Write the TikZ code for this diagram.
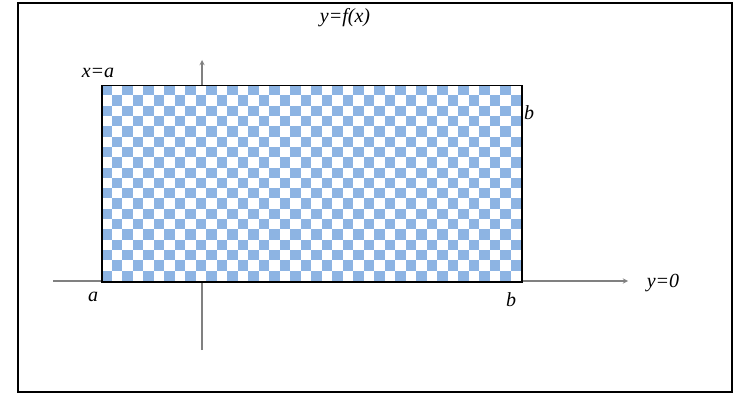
\documentclass[tikz,border=0pt]{standalone}
\usepackage{fontspec}
\setmainfont{Liberation Serif}
\definecolor{checkblue}{RGB}{141,180,227}

\begin{document}
\begin{tikzpicture}[x=1pt, y=-1pt,
  lbl/.style={font=\fontsize{20}{24}\selectfont\itshape, inner sep=1pt}]
  \useasboundingbox (0,0) rectangle (733,393);
  % Outer frame
  \draw[line width=1.4pt] (18,3) rectangle (732,392);
  % Axes (the vertical one runs under the region)
  \coordinate (xstart) at (53,281);
  \coordinate (xend) at (628,281);
  \coordinate (ystart) at (202,350);
  \coordinate (yend) at (202,60);
  \draw[-stealth, gray, line width=1.3pt] (xstart) -- (xend);
  \draw[-stealth, gray, line width=1.3pt] (ystart) -- (yend);
  % Checkered region between x=a and x=b
  \fill[white] (101,85) rectangle (521,281);
  \foreach \i in {0,...,39}{
    \foreach \j in {0,...,18}{
      \pgfmathtruncatemacro\odd{mod(\i+\j,2)}
      \ifnum\odd=0
        \fill[checkblue] (101+\i*10.5,85+\j*10.316) rectangle ++(10.5,10.316);
      \fi
    }
  }
  \node[draw, line width=1.5pt, minimum width=420pt, minimum height=196pt,
        inner sep=0pt, anchor=north west] (area) at (101,85) {};
  % Labels
  \node[lbl] (curve) at (345,18) {y=f(x)};
  \node[lbl] (left) at (98,73) {x=a};
  \node[lbl] (apt) at (93,297) {a};
  \node[lbl] (bpt) at (511,300) {b};
  \node[lbl] (btop) at (529,113) {b};
  \node[lbl] (xaxis) at (663,283) {y=0};
\end{tikzpicture}
\end{document}
